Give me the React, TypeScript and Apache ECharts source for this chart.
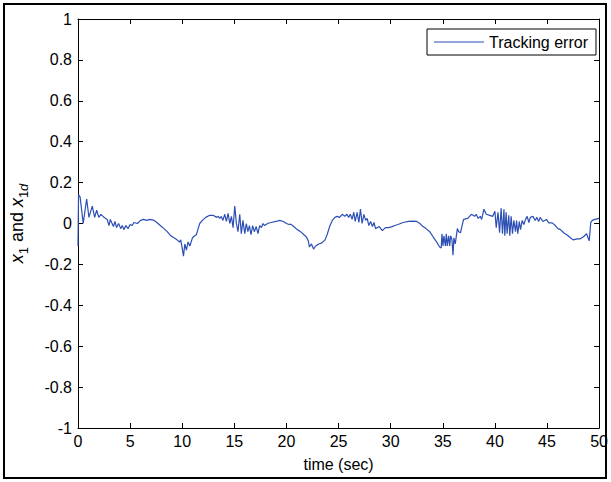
import React, { useEffect, useRef } from "react";
import * as echarts from "echarts";

const TIME = [
  0, 0.05, 0.2, 0.5, 0.83, 1.05, 1.37, 1.6, 1.79, 2.0, 2.2, 2.49, 2.8, 2.97, 3.1, 3.4, 3.55, 3.7, 3.9, 4.1,
  4.25, 4.4, 4.6, 4.8, 5.0, 5.2, 5.36, 5.7, 6.0, 6.3, 6.6, 6.9, 7.3, 7.57, 7.9, 8.25, 8.56, 8.9, 9.2, 9.5,
  9.75, 9.85, 10.0, 10.12, 10.25, 10.4, 10.56, 10.73, 10.98, 11.2, 11.35, 11.5, 11.68, 11.94, 12.26, 12.64, 12.96, 13.3, 13.45, 13.6,
  13.75, 13.9, 14.08, 14.24, 14.4, 14.56, 14.72, 14.88, 15.04, 15.2, 15.35, 15.52, 15.67, 15.83, 16.0, 16.15, 16.3, 16.45, 16.6, 16.76,
  16.92, 17.1, 17.27, 17.43, 17.6, 17.75, 17.9, 18.2, 18.5, 19.0, 19.35, 19.7, 20.0, 20.25, 20.4, 20.7, 21.04, 21.36, 21.68, 21.9,
  22.1, 22.2, 22.4, 22.6, 22.8, 23.1, 23.4, 23.7, 23.9, 24.14, 24.4, 24.65, 24.87, 25.1, 25.35, 25.6, 25.8, 25.97, 26.13, 26.3,
  26.46, 26.6, 26.78, 26.95, 27.1, 27.26, 27.43, 27.6, 27.75, 27.9, 28.08, 28.25, 28.4, 28.55, 28.9, 29.2, 29.5, 29.8, 30.14, 30.4,
  30.7, 31.2, 31.7, 32.15, 32.5, 32.8, 33.1, 33.4, 33.75, 34.07, 34.4, 34.7, 34.85, 34.92, 35.02, 35.11, 35.25, 35.34, 35.43, 35.56,
  35.66, 35.76, 35.88, 35.98, 36.07, 36.2, 36.4, 36.53, 36.7, 36.83, 37.0, 37.4, 37.74, 38.05, 38.2, 38.4, 38.6, 38.73, 38.95, 39.17,
  39.5, 39.8, 40.0, 40.13, 40.3, 40.45, 40.6, 40.73, 40.87, 40.95, 41.08, 41.17, 41.33, 41.43, 41.56, 41.69, 41.82, 41.98, 42.08, 42.2,
  42.34, 42.46, 42.62, 42.78, 42.94, 43.1, 43.26, 43.4, 43.65, 43.87, 44.03, 44.2, 44.35, 44.6, 44.95, 45.17, 45.5, 45.8, 46.05, 46.3,
  46.6, 46.9, 47.25, 47.5, 47.9, 48.2, 48.5, 48.8, 49.05, 49.2, 49.35, 49.6, 50.0,
];

const ERROR = [
  -0.11, 0.14, 0.13, 0.0, 0.12, 0.03, 0.085, 0.03, 0.065, 0.03, 0.045, 0.03, 0.02, -0.01, 0.02, -0.015, 0.01, -0.02, 0.0, -0.025,
  -0.01, -0.03, -0.01, -0.025, -0.005, -0.01, 0.005, 0.0, 0.015, 0.02, 0.015, 0.02, 0.015, 0.005, -0.01, -0.025, -0.04, -0.06, -0.07, -0.08,
  -0.09, -0.08, -0.12, -0.16, -0.1, -0.13, -0.09, -0.11, -0.07, -0.06, -0.055, -0.03, 0.0, 0.015, 0.03, 0.04, 0.04, 0.03, 0.035, 0.025,
  0.035, 0.015, 0.045, 0.01, 0.05, 0.0, 0.035, -0.02, 0.085, 0.0, -0.04, 0.045, -0.05, 0.015, -0.05, 0.0, -0.04, -0.01, -0.055, -0.01,
  -0.04, -0.015, -0.05, -0.01, -0.02, 0.0, -0.01, 0.0, 0.005, 0.01, 0.015, 0.01, 0.0, -0.005, -0.003, -0.015, -0.03, -0.04, -0.055, -0.065,
  -0.085, -0.115, -0.1, -0.125, -0.11, -0.1, -0.095, -0.08, -0.055, -0.015, 0.015, 0.03, 0.035, 0.03, 0.045, 0.035, 0.045, 0.03, 0.045, 0.02,
  0.055, 0.01, 0.055, 0.005, 0.07, 0.0, 0.045, 0.015, 0.025, -0.01, 0.01, -0.015, 0.005, -0.025, -0.015, -0.035, -0.02, -0.02, -0.015, -0.01,
  -0.005, 0.005, 0.01, 0.012, 0.01, 0.0, -0.015, -0.025, -0.04, -0.065, -0.09, -0.115, -0.12, -0.05, -0.11, -0.06, -0.11, -0.05, -0.11, -0.06,
  -0.11, -0.06, -0.08, -0.155, -0.07, -0.1, -0.025, -0.04, -0.045, -0.015, 0.02, 0.025, 0.045, 0.035, 0.045, 0.025, 0.035, 0.02, 0.07, 0.045,
  0.04, 0.035, 0.06, -0.02, 0.055, -0.045, 0.075, -0.05, 0.07, -0.06, 0.055, -0.05, 0.04, -0.06, 0.035, -0.05, 0.015, -0.04, 0.015, -0.05,
  0.01, -0.03, 0.015, -0.005, 0.02, 0.035, 0.005, 0.03, 0.035, 0.015, 0.03, 0.01, 0.03, 0.01, 0.02, 0.003, 0.003, -0.01, -0.025, -0.03,
  -0.045, -0.055, -0.07, -0.08, -0.075, -0.075, -0.065, -0.05, -0.085, 0.005, 0.015, 0.02, 0.025,
];

const SERIES_NAME = "Tracking error";
const X_TITLE = "time (sec)";
const FONT = "'Liberation Sans', Arial, Helvetica, sans-serif";
const FS = 16;

export default function App() {
  const ref = useRef<HTMLDivElement>(null);

  useEffect(() => {
    document.body.style.margin = "0";
    if (!ref.current) return;
    const chart = echarts.init(ref.current, null, { renderer: "svg" });
    const data = TIME.map((t, i) => [t, ERROR[i]]);
    const axisCommon = {
      type: "value" as const,
      axisLine: { show: true, onZero: false, lineStyle: { color: "#000", width: 1 } },
      axisTick: { show: true, inside: true, length: 5, lineStyle: { color: "#000" } },
      splitLine: { show: false },
    };
    chart.setOption({
      animation: false,
      backgroundColor: "#fff",
      textStyle: { fontFamily: FONT },
      grid: { left: 78, top: 19, right: 11, bottom: 54 },
      legend: {
        left: 427,
        top: 29,
        padding: [5, 8, 5, 7],
        backgroundColor: "#fff",
        borderColor: "#000",
        borderWidth: 1,
        borderRadius: 0,
        icon: "rect",
        itemWidth: 50,
        itemHeight: 1,
        itemGap: 4,
        textStyle: { fontSize: FS, color: "#000", fontFamily: FONT },
        data: [{ name: SERIES_NAME }],
      },
      xAxis: [
        {
          ...axisCommon,
          position: "bottom",
          min: 0,
          max: 50,
          interval: 5,
          axisLabel: { color: "#000", fontSize: FS, fontFamily: FONT, margin: 5 },
          name: X_TITLE,
          nameLocation: "middle",
          nameGap: 28,
          nameTextStyle: { color: "#000", fontSize: FS, fontFamily: FONT },
        },
        {
          ...axisCommon,
          position: "top",
          min: 0,
          max: 50,
          interval: 5,
          axisLabel: { show: false },
        },
      ],
      yAxis: [
        {
          ...axisCommon,
          position: "left",
          min: -1,
          max: 1,
          interval: 0.2,
          axisLabel: {
            color: "#000",
            fontSize: FS,
            fontFamily: FONT,
            margin: 6,
            formatter: (v: number) => String(Math.round(v * 10) / 10),
          },
          name: "{i|x}{s|1}{n| and }{i|x}{s|1}{si|d}",
          nameLocation: "middle",
          nameRotate: 90,
          nameGap: 48,
          nameTextStyle: {
            color: "#000",
            fontFamily: FONT,
            fontSize: 18,
            rich: {
              i: { fontStyle: "italic", fontSize: 18, fontFamily: FONT, color: "#000", lineHeight: 26, verticalAlign: "middle" },
              n: { fontSize: 18, fontFamily: FONT, color: "#000", lineHeight: 26, verticalAlign: "middle" },
              s: { fontSize: 13, fontFamily: FONT, color: "#000", lineHeight: 26, verticalAlign: "bottom" },
              si: { fontSize: 13, fontStyle: "italic", fontFamily: FONT, color: "#000", lineHeight: 26, verticalAlign: "bottom" },
            },
          },
        },
        {
          ...axisCommon,
          position: "right",
          min: -1,
          max: 1,
          interval: 0.2,
          axisLabel: { show: false },
        },
      ],
      graphic: [
        {
          type: "rect",
          shape: { x: 4, y: 4, width: 602, height: 474 },
          style: { fill: "none", stroke: "#000", lineWidth: 2 },
          silent: true,
          z: 100,
        },
      ],
      series: [
        {
          name: SERIES_NAME,
          type: "line",
          xAxisIndex: 0,
          yAxisIndex: 0,
          data,
          symbol: "none",
          showSymbol: false,
          lineStyle: { color: "#2d4fb5", width: 1.2 },
          itemStyle: { color: "#2d4fb5" },
        },
      ],
    });
    return () => chart.dispose();
  }, []);

  return <div ref={ref} style={{ width: 611, height: 482 }} />;
}
